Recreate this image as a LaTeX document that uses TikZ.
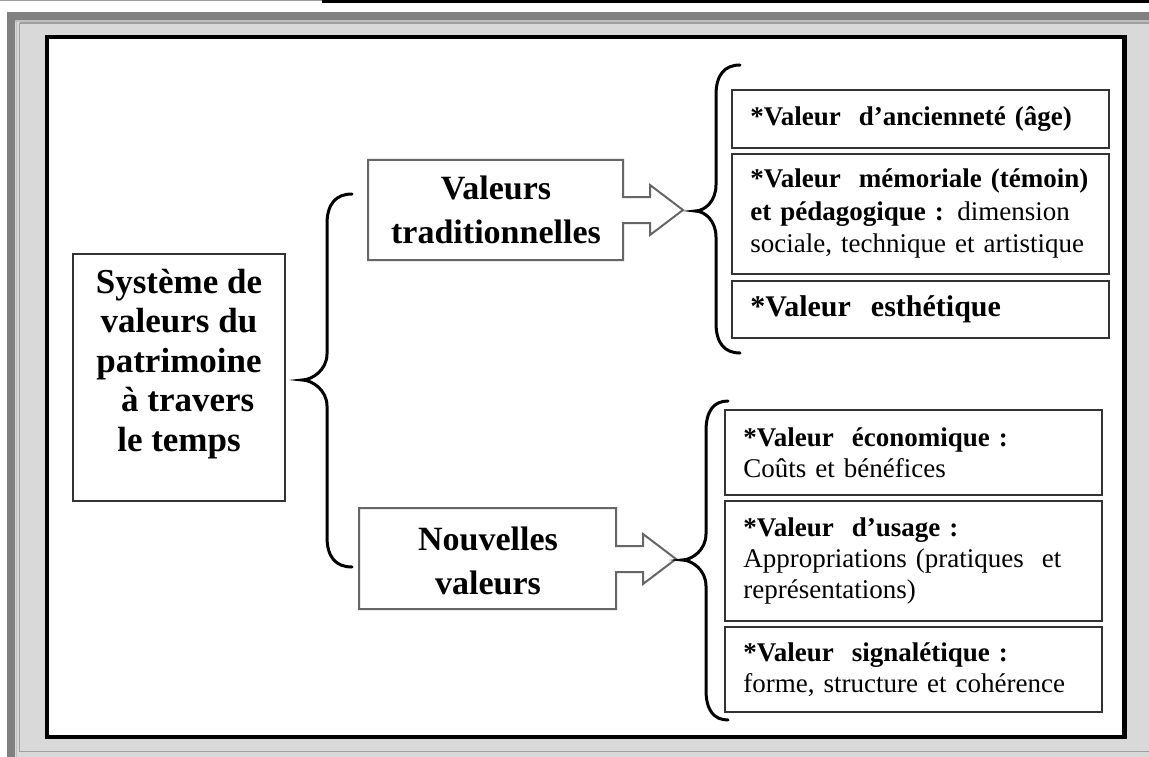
\documentclass[tikz,border=0pt]{standalone}
\usepackage{fontspec}
\setmainfont{Liberation Serif}

\newcommand{\drawbrace}[6]{%
  \draw[bracepen] (#1,#4) .. controls ({#2+0.35*(#1-#2)},#4) and (#2,#4+10) .. (#2,#4+30)
    -- (#2,#5-26) .. controls (#2,#5-10) and (#3+10,#5) .. (#3,#5)
    .. controls (#3+10,#5) and (#2,#5+10) .. (#2,#5+26)
    -- (#2,#6-30) .. controls (#2,#6-10) and ({#2+0.35*(#1-#2)},#6) .. (#1,#6);}
\newcommand{\arrowbox}[5]{%
  \draw[arrowpen] (#1,#2) -- (#3,#2) -- (#3,#5-13) -- (#3+27,#5-13) -- (#3+27,#5-25)
    -- (#3+60,#5) -- (#3+27,#5+25) -- (#3+27,#5+13) -- (#3,#5+13) -- (#3,#4) -- (#1,#4) -- cycle;}

\begin{document}
\begin{tikzpicture}[x=1pt, y=-1pt,
    bracepen/.style={line width=3pt, line cap=round},
    arrowpen/.style={draw=black!60, line width=2pt, fill=white},
    headtext/.style={font=\fontsize{34}{44}\selectfont\bfseries, align=center},
    systext/.style={font=\fontsize{35}{39.5}\selectfont\bfseries, align=center},
    valbox/.style={draw=black!80, line width=1.8pt, anchor=north west, align=left,
      text width=340pt, inner xsep=18.5pt, inner ysep=0pt,
      font=\fontsize{27}{32.5}\selectfont},
    newbox/.style={valbox, font=\fontsize{27}{31}\selectfont}]

  \useasboundingbox (0,0) rectangle (1149,757);
  \fill[gray!30] (7,12) rectangle (1149,757);
  \fill[gray] (7,12) rectangle (1149,20);
  \fill[gray] (7,12) rectangle (15,757);
  \draw[gray!50, line width=1.5pt] (16.5,20.5) -- (16.5,757);
  \draw[gray!50, line width=1.5pt] (15,21) -- (1149,21);
  \draw[gray!75, line width=1.5pt] (19.5,23) -- (19.5,751.5) -- (1149,751.5);
  \draw[gray!75, line width=1.5pt] (19.5,23) -- (1149,23);
  \draw[gray!75, line width=1.5pt] (0,0.75) -- (322,0.75);
  \draw[line width=3pt] (322,1.5) -- (1149,1.5);
  \draw[line width=4.5pt, fill=white] (47,37) rectangle (1124.5,737);

  \node[draw=black!80, line width=1.8pt, minimum width=212pt, minimum height=247pt] (sys) at (179,377.5) {};
  \node[systext] (systxt) at (179,364) {Système de\\valeurs du\\patrimoine\\\hspace{0.5em}à travers\\le temps};

  \drawbrace{352}{327}{302}{194}{380}{567}

  \arrowbox{368}{160}{623}{260}{210}
  \node[headtext] (trad) at (496,210) {Valeurs\\traditionnelles};
  \arrowbox{359}{508}{616}{609}{559}
  \node[headtext] (nouv) at (488,561) {Nouvelles\\valeurs};

  \drawbrace{740}{716}{695}{65}{211}{353}
  \drawbrace{728}{706}{682}{401}{560}{720}

  \node[valbox, minimum height=58pt] (anc) at (731,89) {\textbf{*Valeur\ \ d’ancienneté (âge)}};
  \node[valbox, minimum height=120pt] (mem) at (731,153) {\textbf{*Valeur\ \ mémoriale (témoin)}\\\textbf{et pédagogique :} dimension\\sociale, technique et artistique};
  \node[valbox, minimum height=57pt, font=\fontsize{30}{36}\selectfont] (esth) at (731,280) {\textbf{*Valeur\ \ esthétique}};

  \node[newbox, minimum height=85pt] (eco) at (724,409) {\textbf{*Valeur\ \ économique :}\\Coûts et bénéfices};
  \node[newbox, minimum height=120pt] (usage) at (724,500) {\textbf{*Valeur\ \ d’usage :}\\Appropriations (pratiques\ \ et\\représentations)};
  \node[newbox, minimum height=85pt] (sign) at (724,626) {\textbf{*Valeur\ \ signalétique :}\\forme, structure et cohérence};
\end{tikzpicture}
\end{document}
